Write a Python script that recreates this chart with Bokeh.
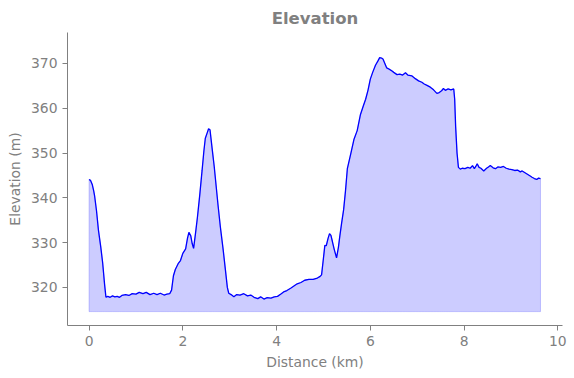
from bokeh.plotting import figure
from bokeh.models import Range1d, FixedTicker
from bokeh.embed import file_html
from bokeh.resources import INLINE

distance_km = [0.00, 0.03, 0.07, 0.10, 0.12, 0.16, 0.20, 0.25, 0.29, 0.33,
               0.36, 0.40, 0.45, 0.50, 0.55, 0.60, 0.65, 0.70, 0.78, 0.85,
               0.92, 1.00, 1.07, 1.15, 1.22, 1.30, 1.38, 1.45, 1.52, 1.60,
               1.66, 1.72, 1.76, 1.80, 1.84, 1.90, 1.95, 2.00, 2.06, 2.10,
               2.13, 2.17, 2.20, 2.23, 2.27, 2.31, 2.36, 2.41, 2.45, 2.48,
               2.52, 2.55, 2.58, 2.63, 2.67, 2.70, 2.75, 2.80, 2.86, 2.91,
               2.95, 2.98, 3.03, 3.09, 3.15, 3.22, 3.30, 3.38, 3.45, 3.52,
               3.60, 3.66, 3.73, 3.80, 3.88, 3.95, 4.02, 4.10, 4.15, 4.22,
               4.30, 4.37, 4.44, 4.52, 4.60, 4.69, 4.78, 4.87, 4.92, 4.96,
               5.00, 5.03, 5.06, 5.10, 5.13, 5.16, 5.19, 5.23, 5.28, 5.32,
               5.35, 5.39, 5.43, 5.47, 5.51, 5.58, 5.65, 5.72, 5.79, 5.85,
               5.90, 5.95, 6.00, 6.05, 6.11, 6.16, 6.20, 6.24, 6.27, 6.31,
               6.35, 6.39, 6.45, 6.50, 6.57, 6.63, 6.69, 6.75, 6.80, 6.89,
               6.96, 7.03, 7.10, 7.15, 7.21, 7.28, 7.35, 7.42, 7.47, 7.52,
               7.56, 7.60, 7.66, 7.72, 7.78, 7.80, 7.82, 7.85, 7.88, 7.92,
               7.96, 8.02, 8.08, 8.13, 8.18, 8.22, 8.25, 8.28, 8.32, 8.36,
               8.42, 8.48, 8.52, 8.56, 8.62, 8.67, 8.72, 8.78, 8.84, 8.90,
               8.96, 9.02, 9.08, 9.14, 9.20, 9.24, 9.30, 9.36, 9.42, 9.45,
               9.50, 9.55, 9.59, 9.63]

elevation_m = [344.1, 343.9, 342.9, 341.5, 340.3, 337.0, 332.8, 329.0, 325.5, 320.8,
               317.8, 318.0, 317.8, 318.1, 317.9, 318.0, 317.8, 318.2, 318.4, 318.2,
               318.6, 318.5, 318.9, 318.6, 318.9, 318.4, 318.7, 318.4, 318.7, 318.3,
               318.5, 318.6, 319.4, 322.6, 324.0, 325.3, 326.0, 327.6, 328.6, 331.0,
               332.3, 331.5, 329.8, 328.7, 332.0, 335.5, 340.5, 346.0, 350.5, 353.3,
               354.5, 355.4, 355.2, 350.6, 347.0, 343.8, 338.5, 333.6, 328.5, 323.8,
               320.0, 318.7, 318.4, 317.9, 318.4, 318.3, 318.6, 318.1, 318.3, 317.8,
               317.5, 317.9, 317.4, 317.7, 317.6, 317.9, 318.0, 318.6, 319.0, 319.3,
               319.8, 320.3, 320.8, 321.1, 321.6, 321.8, 321.8, 322.1, 322.4, 322.8,
               326.5, 329.4, 329.3, 331.0, 332.0, 331.6, 330.3, 328.5, 326.6, 329.0,
               331.5, 334.5, 337.3, 341.5, 346.5, 349.7, 353.0, 355.0, 358.6, 360.5,
               362.0, 364.0, 366.5, 368.0, 369.6, 370.5, 371.3, 371.2, 371.0, 370.0,
               369.0, 368.8, 368.4, 368.0, 367.5, 367.6, 367.4, 367.9, 367.4, 367.2,
               366.6, 366.1, 365.8, 365.4, 365.1, 364.7, 364.1, 363.3, 363.5, 363.9,
               364.4, 364.0, 364.3, 364.1, 364.3, 362.0, 356.0, 350.0, 346.8, 346.4,
               346.6, 346.5, 346.8, 346.6, 347.2, 346.5, 347.0, 347.6, 346.8, 346.6,
               346.0, 346.6, 346.9, 347.2, 346.7, 346.5, 346.9, 346.8, 347.0, 346.6,
               346.4, 346.3, 346.1, 346.2, 345.8, 346.0, 345.6, 345.2, 344.8, 344.6,
               344.3, 344.1, 344.4, 344.3]

fill_base_m = 314.6
x_ticks = [0, 2, 4, 6, 8, 10]
y_ticks = [320, 330, 340, 350, 360, 370]

GRAY = "#808080"
FONT = "DejaVu Sans"

p = figure(width=574, height=378, output_backend="svg", toolbar_location=None,
           x_range=Range1d(-0.46, 10.1), y_range=Range1d(311.5, 376.9),
           min_border_left=67, min_border_right=12, min_border_bottom=53,
           min_border_top=32, title="Elevation")
p.outline_line_color = None
p.xgrid.visible = False
p.ygrid.visible = False
p.background_fill_color = "white"
p.border_fill_color = "white"

p.title.align = "center"
p.title.text_color = GRAY
p.title.text_font = FONT
p.title.text_font_style = "bold"
p.title.text_font_size = "16.5px"

# Filled area with faint edge
xs = list(distance_km) + list(reversed(distance_km))
ys = list(elevation_m) + [fill_base_m] * len(distance_km)
p.patch(xs, ys, fill_color="blue", fill_alpha=0.2, line_color="blue",
        line_alpha=0.2, line_width=1)
p.line(distance_km, elevation_m, line_color="blue", line_width=1.3)

for ax, ticks, label in ((p.xaxis[0], x_ticks, "Distance (km)"),
                         (p.yaxis[0], y_ticks, "Elevation (m)")):
    ax.ticker = FixedTicker(ticks=ticks)
    ax.axis_label = label
    ax.axis_line_color = GRAY
    ax.major_tick_line_color = GRAY
    ax.minor_tick_line_color = None
    ax.major_tick_out = 5
    ax.major_tick_in = 0
    ax.major_label_text_color = GRAY
    ax.major_label_text_font = FONT
    ax.major_label_text_font_size = "13.9px"
    ax.axis_label_text_color = GRAY
    ax.axis_label_text_font = FONT
    ax.axis_label_text_font_size = "13.9px"
    ax.axis_label_text_font_style = "normal"
    ax.major_label_standoff = 5
    ax.axis_label_standoff = 5

open("out.html", "w").write(file_html(p, INLINE))
